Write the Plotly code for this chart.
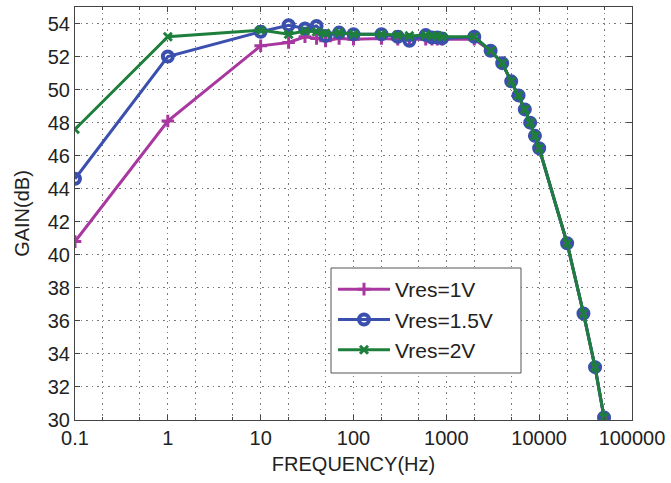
import plotly.graph_objects as go

freq_1v = [0.1, 1, 10, 20, 30, 40, 50, 70, 100, 200, 300, 400, 600, 700, 800, 900, 2000,
           3000, 4000, 5000, 6000, 7000, 8000, 9000, 10000, 20000, 30000, 40000, 50000]
gain_1v = [40.8, 48.1, 52.65, 52.85, 53.2, 53.1, 52.95, 53.1, 53.05, 53.1, 53.05, 53.05, 53.05, 53.05, 53.05, 53.05, 53.05,
           52.35, 51.6, 50.5, 49.65, 48.8, 48.0, 47.2, 46.45, 40.7, 36.45, 33.2, 30.15]

freq_15v = [0.1, 1, 10, 20, 30, 40, 50, 70, 100, 200, 300, 400, 600, 700, 800, 900, 2000,
            3000, 4000, 5000, 6000, 7000, 8000, 9000, 10000, 20000, 30000, 40000, 50000]
gain_15v = [44.6, 52.0, 53.5, 53.9, 53.7, 53.85, 53.25, 53.45, 53.35, 53.35, 53.2, 52.95, 53.3, 53.15, 53.15, 53.1, 53.2,
            52.35, 51.6, 50.5, 49.65, 48.8, 48.0, 47.2, 46.45, 40.7, 36.45, 33.2, 30.15]

freq_2v = [0.1, 1, 10, 20, 30, 40, 50, 70, 100, 200, 300, 400, 600, 700, 800, 900, 2000,
           3000, 4000, 5000, 6000, 7000, 8000, 9000, 10000, 20000, 30000, 40000, 50000]
gain_2v = [47.6, 53.2, 53.6, 53.35, 53.55, 53.5, 53.4, 53.45, 53.35, 53.35, 53.3, 53.25, 53.3, 53.25, 53.25, 53.2, 53.2,
           52.35, 51.6, 50.5, 49.65, 48.8, 48.0, 47.2, 46.45, 40.7, 36.45, 33.2, 30.15]

series_names = ["Vres=1V", "Vres=1.5V", "Vres=2V"]
x_tick_vals = [0.1, 1, 10, 100, 1000, 10000, 100000]
x_tick_text = ["0.1", "1", "10", "100", "1000", "10000", "100000"]
y_tick_vals = [30, 32, 34, 36, 38, 40, 42, 44, 46, 48, 50, 52, 54]

FONT = "Liberation Sans, Arial, Helvetica, sans-serif"
colors = ["#A8389F", "#3A4FAE", "#1E7F3C"]
markers = ["cross-thin-open", "circle-open", "x-thin-open"]
msize = [9, 10, 8]
mlw = [3, 4, 3]

W, H = 671, 483
L, R, T, B = 75, 39, 7, 63
PW, PH = W - L - R, H - T - B

def px_x(p):
    return (p - L) / PW

def px_y(p):
    return 1 - (p - T) / PH

fig = go.Figure()
for name, xs, ys, c, m, s, w in zip(series_names, [freq_1v, freq_15v, freq_2v],
                                    [gain_1v, gain_15v, gain_2v], colors, markers, msize, mlw):
    fig.add_trace(go.Scatter(
        x=xs, y=ys, name=name, mode="lines+markers",
        line=dict(color=c, width=3),
        marker=dict(symbol=m, size=s, color=c, line=dict(color=c, width=w)),
    ))

GRID = dict(gridcolor="#7a7a7a", griddash="1.5px,4px", gridwidth=1.2)

axis_common = dict(
    showline=True, linecolor="#444444", linewidth=1, mirror="allticks",
    ticks="inside", ticklen=5, tickcolor="#444444",
    showgrid=True, zeroline=False,
    tickfont=dict(family=FONT, size=20, color="#222222"),
    **GRID,
)

fig.update_xaxes(
    type="log", range=[-1, 5], tickvals=x_tick_vals, ticktext=x_tick_text,
    title=dict(text="FREQUENCY(Hz)", font=dict(family=FONT, size=20, color="#222222"), standoff=8),
    minor=dict(ticks="inside", ticklen=3, tickcolor="#444444", showgrid=True, **GRID),
    **axis_common,
)
fig.update_yaxes(
    range=[30, 55], tickvals=y_tick_vals,
    title=dict(text="GAIN(dB)", font=dict(family=FONT, size=20, color="#222222"), standoff=12),
    **axis_common,
)

# legend frame (white box with grey border), legend entries drawn on top
fig.add_shape(type="rect", xref="paper", yref="paper",
              x0=px_x(331), x1=px_x(521), y0=px_y(373), y1=px_y(268),
              fillcolor="white", line=dict(color="#555555", width=1), layer="above")

fig.update_layout(
    width=W, height=H,
    margin=dict(l=L, r=R, t=T, b=B),
    paper_bgcolor="white", plot_bgcolor="white",
    showlegend=True,
    legend=dict(
        x=px_x(333), y=px_y(269),
        xanchor="left", yanchor="top",
        bgcolor="rgba(0,0,0,0)", borderwidth=0,
        font=dict(family=FONT, size=21, color="#222222"),
        itemwidth=52,
    ),
)

fig.write_html("out.html", config={"displayModeBar": False},
               post_script="document.body.style.margin='0';document.body.style.overflow='hidden';")
